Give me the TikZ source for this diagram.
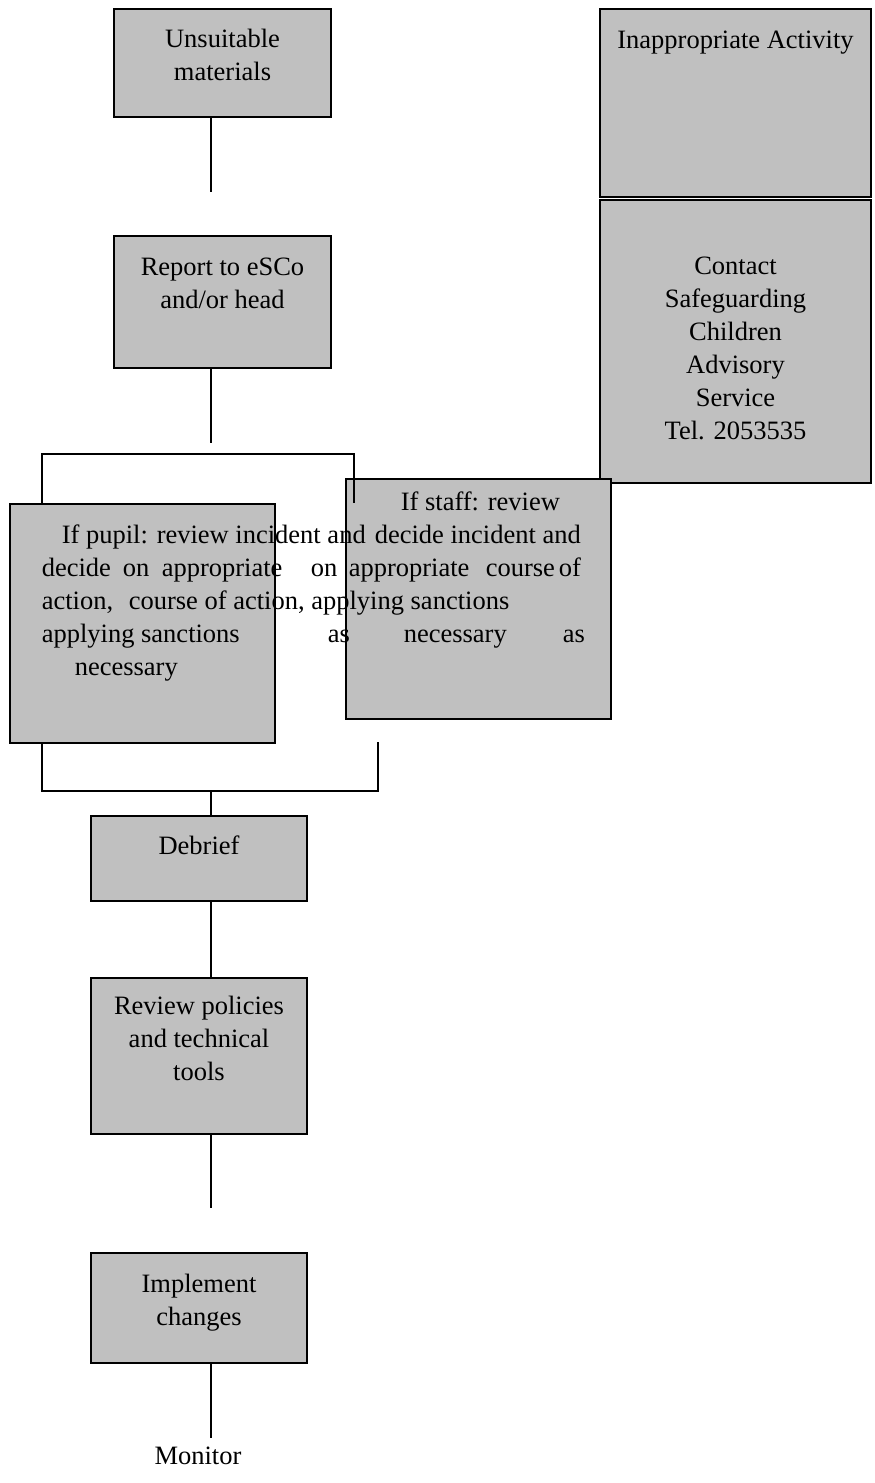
\documentclass[tikz,border=0pt]{standalone}
\usepackage{fontspec}
\setmainfont{Liberation Serif}
\definecolor{boxgray}{RGB}{192,192,192}
\begin{document}
\begin{tikzpicture}[x=1pt,y=-1pt,
  every node/.style={font=\fontsize{26.5}{33}\selectfont, inner sep=0pt},
  box/.style={draw, fill=boxgray, line width=2pt},
  txt/.style={anchor=base, align=center},
  frag/.style={anchor=base west},
  line width=1.6pt]
\useasboundingbox (0,0) rectangle (875,1483);
% boxes
\node[box, minimum width=217pt, minimum height=108pt] (unsuit) at (222.5,63) {};
\node[box, minimum width=217pt, minimum height=132pt] (report) at (222.5,302) {};
\node[box, minimum width=271pt, minimum height=188pt] (inapp) at (735.5,103) {};
\node[box, minimum width=271pt, minimum height=283pt] (contact) at (735.5,341.5) {};
\node[box, minimum width=265pt, minimum height=239pt] (pupil) at (142.5,623.5) {};
\node[box, minimum width=265pt, minimum height=240pt] (staff) at (478.5,599) {};
\node[box, minimum width=216pt, minimum height=85pt] (debrief) at (199,858.5) {};
\node[box, minimum width=216pt, minimum height=156pt] (review) at (199,1056) {};
\node[box, minimum width=216pt, minimum height=110pt] (implement) at (199,1308) {};
% connectors
\coordinate (axis) at (211,0);
\coordinate (u1) at (211,192);
\coordinate (r1) at (211,443);
\coordinate (tl) at (42,454);
\coordinate (tr) at (354,454);
\coordinate (tre) at (354,503);
\coordinate (bl) at (42,791);
\coordinate (br) at (378,791);
\coordinate (bre) at (378,742);
\coordinate (v1) at (211,1208);
\coordinate (m1) at (211,1438);
\draw (unsuit.south -| axis) -- (u1);
\draw (report.south -| axis) -- (r1);
\draw (pupil.north -| tl) -- (tl) -- (tr) -- (tre);
\draw (pupil.south -| bl) -- (bl) -- (br) -- (bre);
\draw (bl -| axis) -- (debrief.north -| axis);
\draw (debrief.south -| axis) -- (review.north -| axis);
\draw (review.south -| axis) -- (v1);
\draw (implement.south -| axis) -- (m1);
% box texts (base = last line)
\node[txt] (unsuitT) at (222.5,80) {Unsuitable\\materials};
\node[txt] (reportT) at (222.5,308) {Report to eSCo\\and/or head};
\node[txt] (inappT) at (735.5,48) {Inappropriate Activity};
\node[txt] (contactT) at (735.5,439) {Contact\\Safeguarding\\Children\\Advisory\\Service\\Tel. 2053535};
\node[txt] (debriefT) at (199,854) {Debrief};
\node[txt] (reviewT) at (199,1080) {Review policies\\and technical\\tools};
\node[txt] (implementT) at (199,1325) {Implement\\changes};
\node[txt] (monitor) at (198,1464) {Monitor};
% the two overlapping texts
\node[frag] (st1) at (400,510) {If staff: review};
\node[frag] (pu1) at (61,543) {If pupil: review incident and};
\node[frag] (st2) at (374,543) {decide incident and};
\node[frag] (pu2a) at (41,576) {decide};
\node[frag] (pu2b) at (122,576) {on};
\node[frag] (pu2c) at (161,576) {appropriate};
\node[frag] (st3a) at (310,576) {on};
\node[frag] (st3b) at (348,576) {appropriate};
\node[frag] (st3c) at (485,576) {course};
\node[frag] (st3d) at (558,576) {of};
\node[frag] (pu3) at (41,609) {action,};
\node[frag] (st4) at (128,609) {course of action, applying sanctions};
\node[frag] (pu4) at (41,642) {applying sanctions};
\node[frag] (st5a) at (327,642) {as};
\node[frag] (st5b) at (403,642) {necessary};
\node[frag] (st5c) at (562,642) {as};
\node[frag] (pu5) at (74,675) {necessary};
\end{tikzpicture}
\end{document}
